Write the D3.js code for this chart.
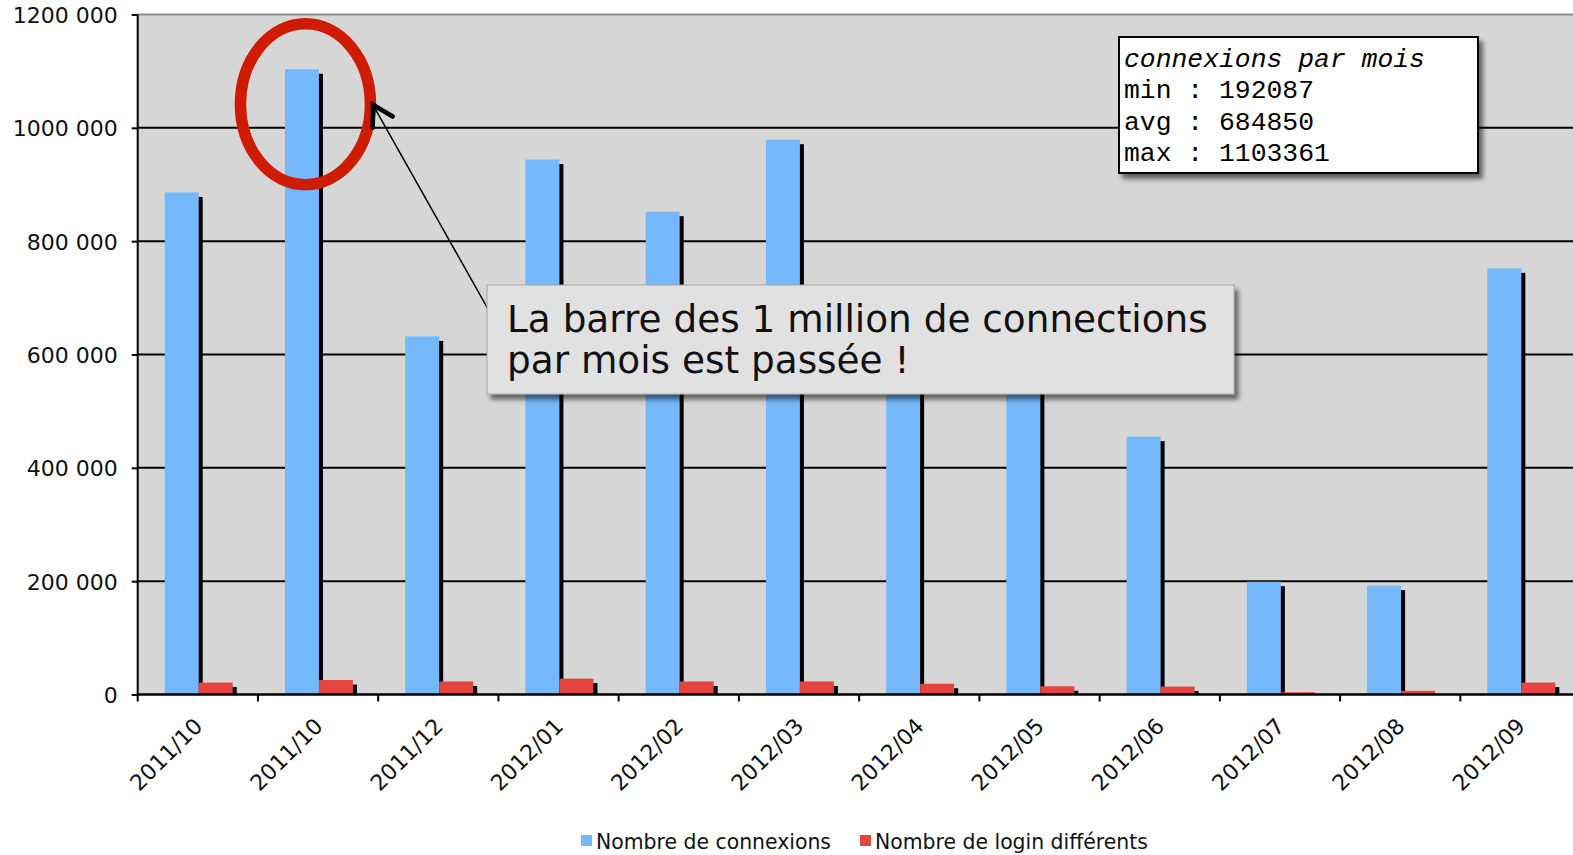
<!DOCTYPE html>
<html>
<head>
<meta charset="utf-8">
<script src="https://cdn.jsdelivr.net/npm/d3@7"></script>
<style>
  body { margin: 0; background: #fff; }
  svg { display: block; font-family: "DejaVu Sans", Verdana, sans-serif; }
</style>
</head>
<body>
<div id="chart"></div>
<script>
// months (the second label really is 2011/10 in the original)
var months = ["2011/10", "2011/10", "2011/12", "2012/01", "2012/02", "2012/03",
              "2012/04", "2012/05", "2012/06", "2012/07", "2012/08", "2012/09"];
var connexions = [886000, 1103361, 632000, 944000, 852000, 979000,
                  626800, 597000, 455000, 199000, 192087, 752000];
var logins = [21000, 25500, 23000, 28000, 23000, 23000,
              19000, 14500, 14000, 4000, 6500, 21000];
var seriesNames = ["Nombre de connexions", "Nombre de login différents"];
var yTicks = [0, 200000, 400000, 600000, 800000, 1000000, 1200000];
var statLines = ["min : 192087", "avg : 684850", "max : 1103361"];
var calloutLines = ["La barre des 1 million de connections", "par mois est passée !"];

var W = 1573, H = 855;
var plotLeft = 137.7, plotTop = 14.5, plotBottom = 694.5;
var bandW = 120.24;

var svg = d3.select("#chart").append("svg")
    .attr("width", W)
    .attr("height", H);

var defs = svg.append("defs");
// soft shadow for the bars
var fb = defs.append("filter").attr("id", "barBlur");
fb.append("feGaussianBlur").attr("stdDeviation", 0.6);
// drop shadow for the two boxes
var fs = defs.append("filter").attr("id", "boxShadow")
    .attr("x", "-10%").attr("y", "-10%").attr("width", "130%").attr("height", "140%");
fs.append("feGaussianBlur").attr("in", "SourceAlpha").attr("stdDeviation", 2.5);
fs.append("feOffset").attr("dx", 4).attr("dy", 5).attr("result", "ob");
fs.append("feComponentTransfer").append("feFuncA").attr("type", "linear").attr("slope", 0.55);
var fm = fs.append("feMerge");
fm.append("feMergeNode");
fm.append("feMergeNode").attr("in", "SourceGraphic");

var idx = d3.range(months.length);

var x = d3.scaleBand()
    .domain(idx)
    .range([plotLeft, plotLeft + bandW * months.length])
    .padding(0);

var sub = d3.scaleBand()
    .domain(["c", "l"])
    .range([27, 95]);

var y = d3.scaleLinear()
    .domain([0, 1200000])
    .range([plotBottom, plotTop]);

var blue = "#76b8fc", red = "#e4463f";

// plot background
svg.append("rect")
    .attr("x", plotLeft).attr("y", plotTop)
    .attr("width", W - plotLeft).attr("height", plotBottom - plotTop)
    .attr("fill", "#d6d6d6");
svg.append("line")
    .attr("x1", plotLeft).attr("x2", W)
    .attr("y1", plotTop).attr("y2", plotTop)
    .attr("stroke", "#8a8a8a").attr("stroke-width", 2);

// grid lines
svg.append("g")
  .selectAll("line")
  .data(yTicks.filter(function(d){ return d > 0 && d < 1200000; }))
  .enter().append("line")
    .attr("x1", plotLeft).attr("x2", W)
    .attr("y1", function(d){ return y(d); })
    .attr("y2", function(d){ return y(d); })
    .attr("stroke", "#000").attr("stroke-width", 2);

// bars: shadows first, then the bars on top
var rows = idx.map(function(i){
  return [{k: "c", i: i, v: connexions[i], c: blue},
          {k: "l", i: i, v: logins[i], c: red}];
});
var flat = [].concat.apply([], rows);

var clip = defs.append("clipPath").attr("id", "plotClip");
clip.append("rect").attr("x", plotLeft).attr("y", 0).attr("width", W).attr("height", plotBottom);

svg.append("g").attr("clip-path", "url(#plotClip)")
  .selectAll("rect")
  .data(flat)
  .enter().append("rect")
    .attr("x", function(d){ return x(d.i) + sub(d.k) + 4; })
    .attr("y", function(d){ return y(d.v) + 4.5; })
    .attr("width", sub.bandwidth())
    .attr("height", function(d){ return plotBottom - y(d.v); })
    .attr("fill", "#000")
    .attr("filter", "url(#barBlur)");

svg.append("g")
  .selectAll("rect")
  .data(flat)
  .enter().append("rect")
    .attr("x", function(d){ return x(d.i) + sub(d.k); })
    .attr("y", function(d){ return y(d.v); })
    .attr("width", sub.bandwidth())
    .attr("height", function(d){ return plotBottom - y(d.v); })
    .attr("fill", function(d){ return d.c; });

// y axis
var yAxis = svg.append("g")
    .attr("transform", "translate(" + plotLeft + ",0)")
    .call(d3.axisLeft(y).tickValues(yTicks).tickSize(6).tickPadding(14)
      .tickFormat(function(d){ return d === 0 ? "0" : (d / 1000) + " 000"; }));
yAxis.select(".domain").attr("stroke-width", 2).attr("d", "M0," + plotTop + "V" + plotBottom);
yAxis.selectAll(".tick line").attr("stroke-width", 2);
yAxis.selectAll("text")
    .attr("font-size", 22).attr("font-family", "DejaVu Sans").attr("fill", "#111")
    .attr("dy", "0.36em");

// x axis: ticks on band boundaries, labels at band centres
var xg = svg.append("g").attr("transform", "translate(0," + plotBottom + ")");
xg.append("line")
    .attr("x1", plotLeft).attr("x2", W)
    .attr("stroke", "#000").attr("stroke-width", 2.5);
xg.selectAll(".tk")
  .data(idx)
  .enter().append("line")
    .attr("class", "tk")
    .attr("x1", function(i){ return x(i); })
    .attr("x2", function(i){ return x(i); })
    .attr("y1", 0).attr("y2", 7)
    .attr("stroke", "#000").attr("stroke-width", 2);
xg.selectAll(".lbl")
  .data(idx)
  .enter().append("text")
    .attr("class", "lbl")
    .attr("text-anchor", "end")
    .attr("font-size", 22)
    .attr("fill", "#111")
    .attr("transform", function(i){
      return "translate(" + (x(i) + x.bandwidth() / 2 + 6) + ",33) rotate(-45)";
    })
    .text(function(i){ return months[i]; });

// legend
var legend = svg.append("g").attr("transform", "translate(0,849)");
var legX = [581, 860];
seriesNames.forEach(function(name, j){
  legend.append("rect")
      .attr("x", legX[j]).attr("y", -14)
      .attr("width", 11).attr("height", 11)
      .attr("fill", j === 0 ? blue : red);
  legend.append("text")
      .attr("x", legX[j] + 15)
      .attr("font-size", 20.4)
      .attr("fill", "#111")
      .text(name);
});

// stats box
var sb = svg.append("g").attr("transform", "translate(1119,37)");
sb.append("rect")
    .attr("width", 359).attr("height", 136)
    .attr("fill", "#fff").attr("stroke", "#000").attr("stroke-width", 2)
    .attr("filter", "url(#boxShadow)");
sb.append("text")
    .attr("x", 5).attr("y", 30)
    .attr("font-family", "Liberation Mono, Courier New, monospace")
    .attr("font-style", "italic")
    .attr("font-size", 26.4)
    .text("connexions par mois");
sb.selectAll(".st")
  .data(statLines)
  .enter().append("text")
    .attr("class", "st")
    .attr("x", 5)
    .attr("y", function(d, k){ return 61 + k * 31.5; })
    .attr("font-family", "Liberation Mono, Courier New, monospace")
    .attr("font-size", 26.4)
    .text(function(d){ return d; });

// red circle around the max bar
var maxI = connexions.indexOf(d3.max(connexions));
var cx = x(maxI) + sub("c") + sub.bandwidth() / 2 + 3.5;
var cy = y(connexions[maxI]) + 35;
svg.append("ellipse")
    .attr("cx", cx).attr("cy", cy)
    .attr("rx", 65).attr("ry", 80.5)
    .attr("fill", "none")
    .attr("stroke", "#cf1b00")
    .attr("stroke-width", 11.5);

// arrow from the callout to the circle
var tip = [cx + 67.5, cy + 0.5], tail = [488, 309];
svg.append("line")
    .attr("x1", tail[0]).attr("y1", tail[1])
    .attr("x2", tip[0]).attr("y2", tip[1])
    .attr("stroke", "#000").attr("stroke-width", 1.5);
var ang = Math.atan2(tail[1] - tip[1], tail[0] - tip[0]);
var arm = 23, spread = Math.PI / 6;
svg.append("path")
    .attr("d", d3.line()([
      [tip[0] + arm * Math.cos(ang - spread), tip[1] + arm * Math.sin(ang - spread)],
      tip,
      [tip[0] + arm * Math.cos(ang + spread), tip[1] + arm * Math.sin(ang + spread)]
    ]))
    .attr("fill", "none")
    .attr("stroke", "#000")
    .attr("stroke-width", 4.5)
    .attr("stroke-linecap", "round");

// callout box
var cb = svg.append("g").attr("transform", "translate(487,285)");
cb.append("rect")
    .attr("width", 747).attr("height", 109)
    .attr("fill", "#e1e1e1")
    .attr("stroke", "#a6a6a6").attr("stroke-width", 1)
    .attr("filter", "url(#boxShadow)");
cb.selectAll("text")
  .data(calloutLines)
  .enter().append("text")
    .attr("x", 20)
    .attr("y", function(d, k){ return 47 + k * 41; })
    .attr("font-size", 37.4)
    .attr("fill", "#111")
    .text(function(d){ return d; });
</script>
</body>
</html>
